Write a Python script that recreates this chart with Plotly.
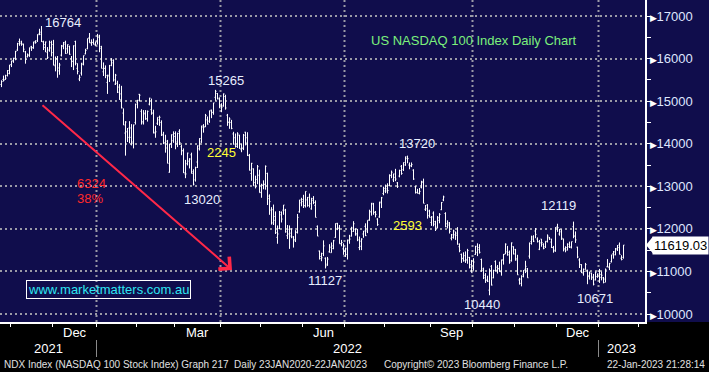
import pandas as pd
import plotly.graph_objects as go

# ---------------- data (NDX daily OHLC, 25-Oct-2021 .. 20-Jan-2023) ----------------
HOLIDAYS = ["2021-11-25", "2021-12-24", "2022-01-17", "2022-02-21", "2022-04-15",
            "2022-05-30", "2022-06-20", "2022-07-04", "2022-09-05", "2022-11-24",
            "2022-12-26", "2023-01-02", "2023-01-16"]

opens = [
    15390, 15510, 15510, 15600, 15650,
    15860, 15950, 16010, 16200, 16400, 16390, 16340, 16160, 16040, 16090, 16280, 16250, 16400, 16420, 16580, 16620, 16390, 16260, 16150, 16200, 16250,
    16330, 15830, 16000, 15780, 16080, 16290, 16340, 16230, 16290, 16000, 15940, 16400, 15770, 15520, 15660, 15860, 16110, 16230, 16490, 16370, 16380, 16320,
    16390, 16530, 16240, 15690, 15770, 15440, 15590, 15960, 15960, 15400, 15420, 15330, 15170, 14720, 14250, 14280, 14370, 14370, 14040, 14500,
    14970, 15160, 14760, 14490, 14720, 14580, 14930, 14800, 14720, 14250, 14480, 14560, 14500, 14220, 14000, 14060, 13330, 14000, 14070,
    14170, 14040, 14290, 13930, 13830, 13290, 13530, 13590, 13740, 13340, 13150, 13570, 13880, 14040, 14390, 14400, 14560, 14530, 14790, 14730, 15090, 15180, 15050,
    14920, 14890, 15110, 14670, 14500, 14500, 14230, 14140, 13940, 14200, 13860, 13890, 14270, 14140, 13720, 13300, 13410, 13090, 13160, 13260,
    12860, 13020, 13050, 13300, 12710, 12440, 12450, 12200, 11800, 12010, 12330, 12440, 12440, 11840, 11990, 11900, 11810, 11720, 11920, 12400, 12610,
    12690, 12540, 12680, 12740, 12470, 12670, 12550, 12060, 11480, 11350, 11420, 11310, 11170, 11460, 11440, 11600, 11800, 12130, 12020, 11650, 11530,
    11470, 11400, 11740, 11830, 11940, 11990, 11890, 11560, 11590, 11880, 12060, 11950, 12210, 12400, 12580, 12390, 12230, 12280, 12630, 12830,
    12890, 12890, 13020, 13250, 13150, 13290, 13080, 13240, 13470, 13390, 13500, 13650, 13500, 13480, 13380, 12990, 12860, 12830, 12970, 13090, 12460, 12560, 12420,
    12150, 12370, 12170, 12040, 12200, 12450, 12680, 12360, 12120, 12090, 11780, 11800, 11860, 11900, 11580, 11400, 11300, 11370, 11270, 11330, 11100,
    11080, 11400, 11450, 11510, 11280, 11060, 10850, 10800, 10560, 11120, 10850, 11230, 11030, 11060, 10990, 11280, 11410, 11460, 11450, 11260, 11580,
    11510, 11270, 10800, 10820, 10920, 11050, 11060, 11360, 11700, 11760, 11950, 11760, 11520, 11760, 11640, 11580, 11700, 11790, 11690, 11560, 11500,
    12050, 11880, 11930, 11760, 11510, 11560, 11580, 11580, 12050, 11830, 11570, 11270, 11160, 10960, 11050, 11030, 10880, 10960, 10870, 10800, 10880,
    11000, 10930, 10850, 10820, 11110, 11090, 11230, 11420, 11390, 11510, 11620, 11310, 11330,
]
highs = [
    15490, 15600, 15620, 15730, 15850,
    15950, 16020, 16180, 16370, 16470, 16420, 16350, 16180, 16120, 16260, 16300, 16400, 16430, 16570, 16700, 16764, 16420, 16400, 16270, 16420, 16420,
    16440, 16050, 16060, 15900, 16320, 16390, 16420, 16330, 16300, 16060, 16310, 16420, 15890, 15620, 15900, 16070, 16230, 16470, 16600, 16450, 16470, 16400,
    16580, 16560, 16300, 15910, 15840, 15620, 15850, 16010, 15980, 15640, 15480, 15400, 15360, 14830, 14530, 14370, 14530, 14460, 14450, 14940,
    15030, 15170, 14810, 14790, 14790, 14780, 15080, 15060, 14800, 14420, 14620, 14660, 14550, 14280, 14210, 14090, 14000, 14220, 14290,
    14290, 14260, 14340, 13970, 13890, 13620, 13790, 13660, 13790, 13400, 13460, 13960, 14130, 14420, 14460, 14700, 14640, 14780, 14800, 14960, 15265, 15190, 15090,
    14950, 15180, 15150, 14700, 14620, 14560, 14280, 14240, 14270, 14210, 14000, 14230, 14280, 14270, 13760, 13550, 13420, 13250, 13500, 13390,
    13060, 13140, 13490, 13320, 12810, 12510, 12570, 12410, 12080, 12420, 12410, 12560, 12470, 12090, 12080, 12010, 11830, 11970, 12350, 12680, 12730,
    12800, 12880, 12750, 12830, 12730, 12770, 12670, 12080, 11490, 11440, 11730, 11330, 11340, 11640, 11680, 11740, 12130, 12140, 12090, 11740, 11660,
    11560, 11750, 11860, 12050, 12180, 12010, 12000, 11820, 11780, 11950, 12130, 12200, 12450, 12610, 12610, 12420, 12250, 12640, 12750, 12990,
    13040, 13070, 13280, 13370, 13300, 13410, 13100, 13390, 13500, 13560, 13700, 13720, 13560, 13560, 13400, 13010, 12940, 12960, 13130, 13180, 12560, 12580, 12450,
    12300, 12410, 12190, 12300, 12370, 12630, 12780, 12390, 12200, 12160, 11880, 11980, 11940, 12040, 11660, 11420, 11450, 11470, 11530, 11340, 11270,
    11310, 11600, 11660, 11640, 11300, 11090, 10960, 10900, 11070, 11150, 11040, 11260, 11150, 11230, 11280, 11410, 11660, 11600, 11490, 11680, 11590,
    11530, 11390, 10850, 10910, 11030, 11250, 11080, 11680, 11840, 11850, 12020, 11800, 11740, 11760, 11660, 11710, 11870, 11810, 11770, 11600, 12040,
    12120, 12000, 11990, 11770, 11590, 11660, 11700, 11700, 12170, 11940, 11580, 11310, 11170, 11070, 11200, 11040, 10990, 10970, 10940, 11000, 10950,
    11060, 11000, 10870, 11070, 11290, 11200, 11390, 11480, 11550, 11620, 11680, 11380, 11620,
]
lows = [
    15330, 15460, 15500, 15580, 15630,
    15800, 15900, 15960, 16180, 16300, 16300, 16150, 15880, 16030, 16040, 16180, 16230, 16350, 16390, 16550, 16390, 16200, 16150, 15990, 16160, 16050,
    15840, 15700, 15550, 15620, 16050, 16220, 16110, 16120, 16090, 15800, 15730, 15840, 15630, 15470, 15600, 15840, 16100, 16220, 16370, 16300, 16330, 16300,
    16330, 16150, 15770, 15590, 15540, 15170, 15450, 15820, 15460, 15380, 15190, 15030, 14830, 14440, 13720, 14040, 14010, 13960, 13890, 14450,
    14830, 14990, 14450, 14450, 14560, 14520, 14900, 14680, 14240, 14140, 14440, 14420, 14180, 13990, 13790, 13540, 13320, 13900, 14020,
    13870, 13920, 13970, 13730, 13310, 13190, 13490, 13420, 13300, 13020, 13110, 13430, 13840, 14020, 14260, 14390, 14450, 14490, 14600, 14680, 15010, 15040, 14840,
    14740, 14870, 14800, 14420, 14350, 14340, 13980, 13910, 13900, 13880, 13800, 13850, 13960, 13710, 13370, 13130, 13010, 12950, 13050, 12850,
    12730, 12930, 12920, 12560, 12330, 12100, 12090, 11880, 11650, 11990, 12150, 12330, 11910, 11760, 11530, 11780, 11560, 11690, 11890, 12380, 12530,
    12490, 12500, 12520, 12500, 12450, 12580, 12270, 11830, 11280, 11240, 11360, 11070, 11130, 11440, 11440, 11520, 11790, 11970, 11650, 11590, 11390,
    11340, 11280, 11650, 11820, 11930, 11840, 11710, 11500, 11500, 11790, 11830, 11900, 12190, 12310, 12330, 12270, 12070, 12260, 12490, 12790,
    12840, 12830, 13000, 13190, 13100, 13120, 12960, 13210, 13270, 13360, 13480, 13540, 13400, 13450, 13150, 12830, 12830, 12810, 12950, 12600, 12420, 12240, 12270,
    12070, 12060, 11950, 12010, 12130, 12440, 12650, 12040, 12010, 11890, 11730, 11770, 11740, 11630, 11450, 11200, 11230, 11200, 11180, 11070, 10970,
    11020, 11390, 11360, 11420, 10990, 10820, 10730, 10750, 10440, 10670, 10840, 11000, 10950, 10990, 10900, 11160, 11410, 11370, 11180, 11230, 11400,
    11250, 10920, 10690, 10650, 10860, 10960, 10850, 11300, 11630, 11690, 11780, 11680, 11500, 11580, 11520, 11550, 11680, 11740, 11550, 11440, 11460,
    11930, 11840, 11740, 11470, 11450, 11490, 11550, 11540, 11780, 11670, 11310, 11080, 10960, 10900, 11040, 10700, 10810, 10800, 10671, 10790, 10850,
    10730, 10790, 10720, 10740, 11100, 11030, 11210, 11300, 11380, 11480, 11400, 11260, 11300,
]
closes = [
    15460, 15490, 15540, 15720, 15850,
    15940, 16000, 16170, 16350, 16350, 16340, 16220, 15980, 16070, 16250, 16260, 16370, 16380, 16560, 16570, 16400, 16330, 16390, 16030, 16380, 16140,
    15850, 15990, 15710, 15850, 16300, 16380, 16120, 16330, 16100, 15930, 16300, 15890, 15700, 15560, 15890, 16070, 16190, 16470, 16370, 16380, 16340, 16320,
    16500, 16280, 15770, 15770, 15600, 15610, 15840, 15900, 15500, 15610, 15210, 15040, 14840, 14440, 14510, 14150, 14150, 14010, 14440, 14930,
    15020, 15140, 14520, 14700, 14590, 14760, 15070, 14720, 14270, 14280, 14620, 14620, 14200, 14030, 13900, 13540, 13990, 14210, 14240,
    14000, 14240, 14030, 13840, 13320, 13290, 13780, 13640, 13300, 13050, 13440, 13950, 14120, 14420, 14390, 14660, 14460, 14770, 14740, 14960, 15230, 15070, 14840,
    14860, 15170, 14840, 14510, 14580, 14360, 13990, 13940, 14230, 13890, 13900, 14200, 14020, 13730, 13380, 13540, 13010, 12990, 13460, 12850,
    13030, 13040, 13470, 12770, 12640, 12140, 12290, 11910, 11880, 12390, 12230, 12560, 11930, 11880, 11830, 12000, 11750, 11920, 12270, 12680, 12640,
    12550, 12880, 12550, 12590, 12710, 12620, 12270, 11830, 11300, 11320, 11600, 11130, 11290, 11570, 11540, 11720, 12120, 12010, 11650, 11680, 11500,
    11530, 11720, 11760, 12020, 12120, 11860, 11740, 11710, 11760, 11950, 11840, 12200, 12400, 12600, 12390, 12340, 12100, 12610, 12730, 12950,
    12940, 12900, 13260, 13330, 13210, 13170, 13000, 13370, 13300, 13560, 13690, 13650, 13480, 13510, 13170, 12850, 12840, 12880, 13110, 12600, 12470, 12310, 12270,
    12280, 12110, 12010, 12260, 12340, 12620, 12750, 12050, 12140, 11940, 11860, 11950, 11850, 11640, 11490, 11310, 11250, 11270, 11490, 11160, 10970,
    11220, 11590, 11560, 11450, 11020, 10910, 10790, 10770, 11020, 10680, 11020, 11100, 11070, 11000, 11260, 11400, 11640, 11390, 11220, 11670, 11410,
    11300, 10920, 10720, 10880, 11020, 11120, 10850, 11660, 11810, 11710, 11870, 11700, 11670, 11680, 11540, 11710, 11830, 11760, 11560, 11480, 12030,
    12030, 11980, 11780, 11540, 11500, 11640, 11560, 11700, 11830, 11740, 11340, 11160, 10980, 11000, 11160, 10900, 10990, 10850, 10700, 10980, 10940,
    10860, 10910, 10740, 11040, 11110, 11190, 11390, 11460, 11540, 11560, 11400, 11280, 11619.03,
]

Y_TICKS = [10000, 11000, 12000, 13000, 14000, 15000, 16000, 17000]
MONTH_LABELS = ["Dec", "Mar", "Jun", "Sep", "Dec"]
MONTH_LABEL_PERIODS = ["2021-12", "2022-03", "2022-06", "2022-09", "2022-12"]
YEAR_LABELS = ["2021", "2022", "2023"]
GRID_MONTHS = [1, 4, 7, 10]

PEAK_LABELS = [  # (text, colour, px_x, px_y)
    ("16764", "#e8eeff", 63, 22), ("15265", "#e8eeff", 226, 81),
    ("2245", "#ffff33", 221, 153), ("13020", "#e8eeff", 202, 200),
    ("6324", "#ff2a2a", 91, 183), ("38%", "#ff2a2a", 90, 198),
    ("11127", "#e8eeff", 325, 280), ("13720", "#e8eeff", 417, 143),
    ("2593", "#ffff33", 407, 225), ("12119", "#e8eeff", 558, 205),
    ("10440", "#e8eeff", 482, 304), ("10671", "#e8eeff", 595, 298),
]

# ---------------- calendar / axes ----------------
cal = [d for d in pd.bdate_range("2021-10-25", "2023-02-03")
       if d.strftime("%Y-%m-%d") not in HOLIDAYS]
n = len(closes)
xi = list(range(n))

W, H = 709, 372
PW, PH = 645, 322
X_RANGE = [-0.75, -0.75 + PW / 2]
Y_RANGE = [9812, 17376]

def to_x(px):
    return X_RANGE[0] + px / PW * (X_RANGE[1] - X_RANGE[0])

def to_y(py):
    return Y_RANGE[1] - py / PH * (Y_RANGE[1] - Y_RANGE[0])

def paper_x(px):
    return px / PW

def paper_y(py):
    return 1 - py / PH

month_bounds = [i - 0.5 for i in range(1, len(cal)) if cal[i].month != cal[i - 1].month]
grid_bounds = [i - 0.5 for i in range(1, len(cal))
               if cal[i].month != cal[i - 1].month and cal[i].month in GRID_MONTHS]
year_bounds = [i - 0.5 for i in range(1, len(cal)) if cal[i].year != cal[i - 1].year]

fig = go.Figure()
fig.add_trace(go.Ohlc(
    x=xi, open=opens, high=highs, low=lows, close=closes,
    increasing_line_color="white", decreasing_line_color="white",
    line_width=1, tickwidth=0.5, hoverinfo="skip", showlegend=False,
))

FONT = "Liberation Sans, Arial, sans-serif"
NAVY = "#100d4c"

shapes = []
# black bottom strip
shapes.append(dict(type="rect", xref="paper", yref="paper", x0=-0.01, x1=W / PW + 0.01,
                   y0=paper_y(H + 2), y1=paper_y(PH), fillcolor="black", line_width=0, layer="below"))
for b in grid_bounds:
    shapes.append(dict(type="line", xref="x", yref="paper", x0=b, x1=b, y0=0, y1=1,
                       line=dict(color="#9a9aa6", width=2, dash="2px,3px"), layer="below"))
for b in year_bounds:
    shapes.append(dict(type="line", xref="x", yref="paper", x0=b, x1=b,
                       y0=paper_y(340), y1=paper_y(357), line=dict(color="#8a8a8a", width=1)))
# price tag pointer
last = closes[-1]
shapes.append(dict(type="path", xref="paper", yref="y", xsizemode="pixel", ysizemode="pixel",
                   xanchor=1, yanchor=last, path="M 1 0 L 8 8.5 L 8 -8.5 Z",
                   fillcolor="white", line_width=0))

ann = []
for txt, col, px, py in PEAK_LABELS:
    ann.append(dict(text=txt, xref="paper", yref="paper", x=paper_x(px), y=paper_y(py),
                    xanchor="center", yanchor="middle", showarrow=False,
                    font=dict(family=FONT, size=13, color=col)))
ann.append(dict(text="US NASDAQ 100 Index Daily Chart", xref="paper", yref="paper",
                x=paper_x(474), y=paper_y(41), xanchor="center", yanchor="middle", showarrow=False,
                font=dict(family=FONT, size=13, color="#7cf07c")))
ann.append(dict(text="www.marketmatters.com.au", xref="paper", yref="paper",
                x=paper_x(108), y=paper_y(289), xanchor="center", yanchor="middle", showarrow=False,
                font=dict(family=FONT, size=13, color="#2ee6f2"),
                bordercolor="white", borderwidth=1, borderpad=1))
# red arrow
ann.append(dict(x=to_x(232), y=to_y(270), ax=to_x(41), ay=to_y(104),
                xref="x", yref="y", axref="x", ayref="y", text="", showarrow=True,
                arrowhead=4, arrowsize=1.6, arrowwidth=2, arrowcolor="#ff2848"))
# last price tag
ann.append(dict(text=f"{last:.2f}", xref="paper", yref="y", x=1, y=last, xanchor="left",
                yanchor="middle", xshift=7, showarrow=False, bgcolor="white", borderpad=1,
                font=dict(family=FONT, size=13, color="black")))
# month labels
for lab, per in zip(MONTH_LABELS, MONTH_LABEL_PERIODS):
    idx = [i for i, d in enumerate(cal) if d.strftime("%Y-%m") == per]
    ann.append(dict(text=lab, xref="x", yref="paper", x=(idx[0] + idx[-1]) / 2, y=paper_y(332),
                    xanchor="center", yanchor="middle", showarrow=False,
                    font=dict(family=FONT, size=13, color="white")))
for lab in YEAR_LABELS:
    idx = [i for i, d in enumerate(cal) if str(d.year) == lab]
    a = max(idx[0] - 0.5, X_RANGE[0])
    b = min(idx[-1] + 0.5, X_RANGE[1])
    ann.append(dict(text=lab, xref="x", yref="paper", x=(a + b) / 2, y=paper_y(348),
                    xanchor="center", yanchor="middle", showarrow=False,
                    font=dict(family=FONT, size=13, color="white")))
# footer
FOOT = dict(family="Liberation Sans Narrow, Arial Narrow, Liberation Sans, sans-serif", size=10, color="#e0e0e0")
ann.append(dict(text="NDX Index (NASDAQ 100 Stock Index) Graph 217  Daily 23JAN2020-22JAN2023",
                xref="paper", yref="paper", x=paper_x(2), y=paper_y(364), xanchor="left",
                yanchor="middle", showarrow=False, font=FOOT))
ann.append(dict(text="Copyright\u00a9 2023 Bloomberg Finance L.P.", xref="paper", yref="paper",
                x=paper_x(476), y=paper_y(364), xanchor="center", yanchor="middle",
                showarrow=False, font=FOOT))
ann.append(dict(text="22-Jan-2023 21:28:14", xref="paper", yref="paper", x=paper_x(707),
                y=paper_y(364), xanchor="right", yanchor="middle", showarrow=False, font=FOOT))

tri = '<span style="color:#ffffff;font-size:9px">\u25b6</span>'
fig.update_layout(
    width=W, height=H, margin=dict(l=0, r=W - PW, t=0, b=H - PH),
    paper_bgcolor=NAVY, plot_bgcolor=NAVY,
    font=dict(family=FONT, color="white"),
    showlegend=False, shapes=shapes, annotations=ann,
    xaxis=dict(range=X_RANGE, tickvals=month_bounds, showticklabels=False,
               ticks="outside", ticklen=3, tickcolor="white", tickwidth=1,
               showline=True, linecolor="white", linewidth=2, showgrid=False, zeroline=False,
               rangeslider=dict(visible=False), fixedrange=True),
    yaxis=dict(range=Y_RANGE, side="right", tickvals=Y_TICKS,
               ticktext=[f"{tri}{v}" for v in Y_TICKS], ticks="",
               tickfont=dict(family=FONT, size=13, color="#dfe6ff"),
               showline=True, linecolor="white", linewidth=2,
               showgrid=True, gridcolor="#9a9aa6", gridwidth=2, griddash="2px,3px",
               zeroline=False, fixedrange=True,
               minor=dict(ticks="outside", ticklen=4, tickcolor="white", dtick=500, tick0=0,
                          showgrid=False)),
)

fig.write_html("out.html", config={"displayModeBar": False},
               post_script="document.body.style.margin='0';document.body.style.background='#100d4c';")
